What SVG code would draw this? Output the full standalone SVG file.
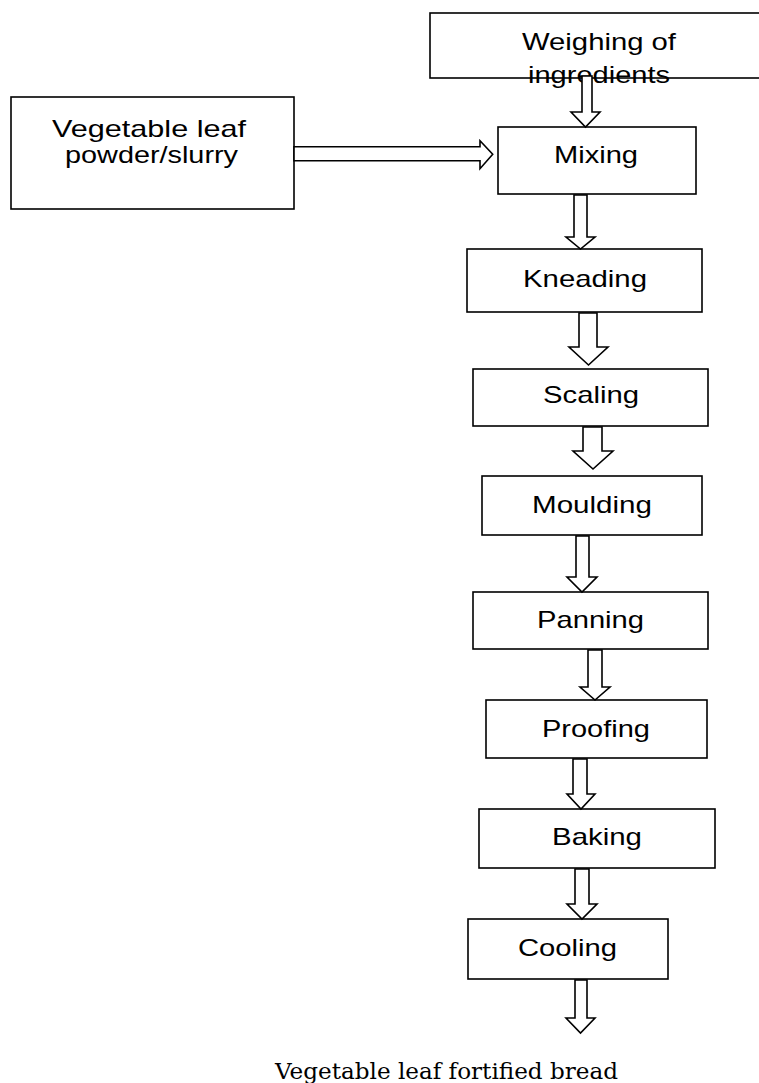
<svg xmlns="http://www.w3.org/2000/svg" width="759" height="1083" viewBox="0 0 759 1083">
<style>
.box{fill:#fff;stroke:#000;stroke-width:1.6}
.lbl{font-family:"Liberation Sans",Arial,sans-serif;font-size:24px;fill:#000}
.arr{fill:#fff;stroke:#000;stroke-width:1.6;stroke-linejoin:miter}
.cap{font-family:"DejaVu Serif","Liberation Serif",serif;font-size:23px;fill:#000}
</style>
<rect width="759" height="1083" fill="#fff"/>
<g id="node-weighing">
<rect class="box" x="430" y="13" width="340" height="65"/>
<text class="lbl" x="522" y="50" textLength="154" lengthAdjust="spacingAndGlyphs">Weighing of</text>
<text class="lbl" x="528" y="83" textLength="142" lengthAdjust="spacingAndGlyphs">ingredients</text>
</g>
<g id="node-vegetable">
<rect class="box" x="11" y="97" width="283" height="112"/>
<text class="lbl" x="52" y="137" textLength="194" lengthAdjust="spacingAndGlyphs">Vegetable leaf</text>
<text class="lbl" x="65" y="163" textLength="173" lengthAdjust="spacingAndGlyphs">powder/slurry</text>
</g>
<g id="node-mixing">
<rect class="box" x="498" y="127" width="198" height="67"/>
<text class="lbl" x="554" y="163" textLength="84" lengthAdjust="spacingAndGlyphs">Mixing</text>
</g>
<g id="node-kneading">
<rect class="box" x="467" y="249" width="235" height="63"/>
<text class="lbl" x="523" y="287" textLength="124" lengthAdjust="spacingAndGlyphs">Kneading</text>
</g>
<g id="node-scaling">
<rect class="box" x="473" y="369" width="235" height="57"/>
<text class="lbl" x="543" y="403" textLength="96" lengthAdjust="spacingAndGlyphs">Scaling</text>
</g>
<g id="node-moulding">
<rect class="box" x="482" y="476" width="220" height="59"/>
<text class="lbl" x="532" y="513" textLength="120" lengthAdjust="spacingAndGlyphs">Moulding</text>
</g>
<g id="node-panning">
<rect class="box" x="473" y="592" width="235" height="57"/>
<text class="lbl" x="537" y="628" textLength="107" lengthAdjust="spacingAndGlyphs">Panning</text>
</g>
<g id="node-proofing">
<rect class="box" x="486" y="700" width="221" height="58"/>
<text class="lbl" x="542" y="737" textLength="108" lengthAdjust="spacingAndGlyphs">Proofing</text>
</g>
<g id="node-baking">
<rect class="box" x="479" y="809" width="236" height="59"/>
<text class="lbl" x="552" y="845" textLength="90" lengthAdjust="spacingAndGlyphs">Baking</text>
</g>
<g id="node-cooling">
<rect class="box" x="468" y="919" width="200" height="60"/>
<text class="lbl" x="518" y="956" textLength="99" lengthAdjust="spacingAndGlyphs">Cooling</text>
</g>
<g id="node-product">
<text class="cap" x="275" y="1079" textLength="343" lengthAdjust="spacingAndGlyphs">Vegetable leaf fortified bread</text>
</g>
<g id="connectors">
<polygon class="arr" points="582,76 592,76 592,112 600,112 585.5,127 571,112 582,112"/>
<polygon class="arr" points="294,146.7 480,146.7 480,140.7 492.7,154.2 480,168.7 480,160.7 294,160.7"/>
<polygon class="arr" points="574,195 587,195 587,237 595,237 580.5,249 566,237 574,237"/>
<polygon class="arr" points="579,313 597,313 597,347 608,347 588.5,365 569,347 579,347"/>
<polygon class="arr" points="583,427 602,427 602,451 613,451 593,469 573,451 583,451"/>
<polygon class="arr" points="576,536 589,536 589,577 597,577 582,592 567,577 576,577"/>
<polygon class="arr" points="588,650 602,650 602,687 610,687 595,700 580,687 588,687"/>
<polygon class="arr" points="573,759 587,759 587,794 595,794 581,809 567,794 573,794"/>
<polygon class="arr" points="575,869 589,869 589,904 597,904 582,919 567,904 575,904"/>
<polygon class="arr" points="575,980 587,980 587,1018 595,1018 580.5,1033 566,1018 575,1018"/>
</g>
</svg>
